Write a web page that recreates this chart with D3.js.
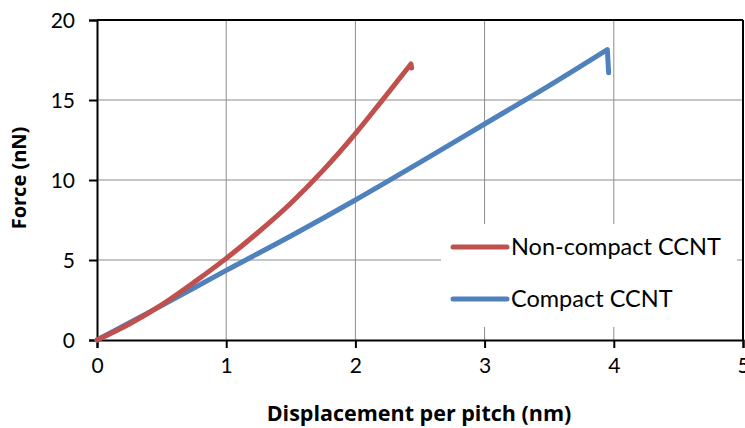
<!DOCTYPE html>
<html>
<head>
<meta charset="utf-8">
<script src="https://cdn.jsdelivr.net/npm/d3@7"></script>
<style>
  body { margin: 0; background: #fff; }
  svg { display: block; font-family: Lato, "Open Sans", sans-serif; }
</style>
</head>
<body>
<div id="chart"></div>
<script>
// data
var xTicks = [0, 1, 2, 3, 4, 5];
var yTicks = [0, 5, 10, 15, 20];

var nonCompactX = [0, 0.25, 0.5, 0.75, 1, 1.25, 1.5, 1.75, 2, 2.2, 2.43, 2.435];
var nonCompactY = [0, 1.0, 2.2, 3.6, 5.1, 6.75, 8.55, 10.6, 12.9, 14.9, 17.25, 17.0];

var compactX = [0, 0.5, 1, 1.5, 2, 2.5, 3, 3.5, 3.95, 3.96];
var compactY = [0, 2.15, 4.35, 6.5, 8.75, 11.1, 13.5, 15.9, 18.15, 16.7];

var seriesNames = ["Non-compact CCNT", "Compact CCNT"];
var seriesColors = ["#C0504D", "#4F81BD"];

var svgWidth = 745;
var svgHeight = 428;

var margin = { top: 20, right: 2, bottom: 88, left: 97 };
var width = svgWidth - margin.left - margin.right;
var height = svgHeight - margin.top - margin.bottom;

var svg = d3.select("#chart")
  .append("svg")
  .attr("width", svgWidth)
  .attr("height", svgHeight);

var chart = svg.append("g")
  .attr("transform", "translate(" + margin.left + "," + margin.top + ")");

var x = d3.scaleLinear().domain([0, 5]).range([0, width]);
var y = d3.scaleLinear().domain([0, 20]).range([height, 0]);

// gridlines
chart.append("g")
  .selectAll("line")
  .data(xTicks.slice(1, -1))
  .enter().append("line")
  .attr("x1", d => x(d)).attr("x2", d => x(d))
  .attr("y1", 0).attr("y2", height)
  .attr("stroke", "#8c8c8c").attr("stroke-width", 1);

chart.append("g")
  .selectAll("line")
  .data(yTicks.slice(1, -1))
  .enter().append("line")
  .attr("x1", 0).attr("x2", width)
  .attr("y1", d => y(d)).attr("y2", d => y(d))
  .attr("stroke", "#8c8c8c").attr("stroke-width", 1);

// frame top and right
chart.append("line")
  .attr("x1", 0).attr("x2", width).attr("y1", 0).attr("y2", 0)
  .attr("stroke", "#000").attr("stroke-width", 2);
chart.append("line")
  .attr("x1", width).attr("x2", width).attr("y1", 0).attr("y2", height)
  .attr("stroke", "#000").attr("stroke-width", 2);

// axes
var xAxis = d3.axisBottom(x).tickValues(xTicks).tickSize(8).tickPadding(10).tickFormat(d3.format("d"));
var yAxis = d3.axisLeft(y).tickValues(yTicks).tickSize(8).tickPadding(14).tickFormat(d3.format("d"));

var gx = chart.append("g")
  .attr("transform", "translate(0," + height + ")")
  .call(xAxis);
var gy = chart.append("g").call(yAxis);

[gx, gy].forEach(function(g) {
  g.select(".domain").attr("stroke", "#000").attr("stroke-width", 2);
  g.selectAll(".tick line").attr("stroke", "#000").attr("stroke-width", 2);
  g.selectAll(".tick text")
    .attr("fill", "#000")
    .style("font-size", "21px")
    .style("font-family", "Lato, 'Open Sans', sans-serif");
});
gy.selectAll(".tick text").attr("dy", "0.35em");

// legend box (covers gridlines)
var legend = chart.append("g");
legend.append("rect")
  .attr("x", 441 - margin.left).attr("y", 224 - margin.top)
  .attr("width", 296).attr("height", 103)
  .attr("fill", "#fff");

// lines
var line = d3.line()
  .x(d => x(d[0]))
  .y(d => y(d[1]))
  .curve(d3.curveMonotoneX);

function seriesPath(d) {
  // smooth body, straight final drop
  var last = d[d.length - 1];
  return line(d.slice(0, -1)) + "L" + x(last[0]) + "," + y(last[1]);
}

var nonCompact = nonCompactX.map((v, i) => [v, nonCompactY[i]]);
var compact = compactX.map((v, i) => [v, compactY[i]]);

chart.append("path")
  .datum(compact)
  .attr("d", seriesPath)
  .attr("fill", "none")
  .attr("stroke", seriesColors[1])
  .attr("stroke-width", 5)
  .attr("stroke-linecap", "round")
  .attr("stroke-linejoin", "round");

chart.append("path")
  .datum(nonCompact)
  .attr("d", seriesPath)
  .attr("fill", "none")
  .attr("stroke", seriesColors[0])
  .attr("stroke-width", 5)
  .attr("stroke-linecap", "round")
  .attr("stroke-linejoin", "round");

// legend entries
var legendY = [247, 299];
seriesNames.forEach(function(name, i) {
  legend.append("line")
    .attr("x1", 453 - margin.left).attr("x2", 507 - margin.left)
    .attr("y1", legendY[i] - margin.top).attr("y2", legendY[i] - margin.top)
    .attr("stroke", seriesColors[i])
    .attr("stroke-width", 5)
    .attr("stroke-linecap", "round");
  legend.append("text")
    .attr("x", 511 - margin.left)
    .attr("y", legendY[i] - margin.top)
    .attr("dy", "0.35em")
    .style("font-size", "23.5px")
    .attr("fill", "#000")
    .text(name);
});

// axis titles
svg.append("text")
  .attr("x", 419)
  .attr("y", 421)
  .attr("text-anchor", "middle")
  .style("font-family", "'Open Sans', sans-serif")
  .style("font-size", "21.5px")
  .style("font-weight", "bold")
  .text("Displacement per pitch (nm)");

svg.append("text")
  .attr("transform", "translate(26,178) rotate(-90)")
  .attr("text-anchor", "middle")
  .style("font-family", "'Open Sans', sans-serif")
  .style("font-size", "20px")
  .style("font-weight", "bold")
  .text("Force (nN)");
</script>
</body>
</html>
